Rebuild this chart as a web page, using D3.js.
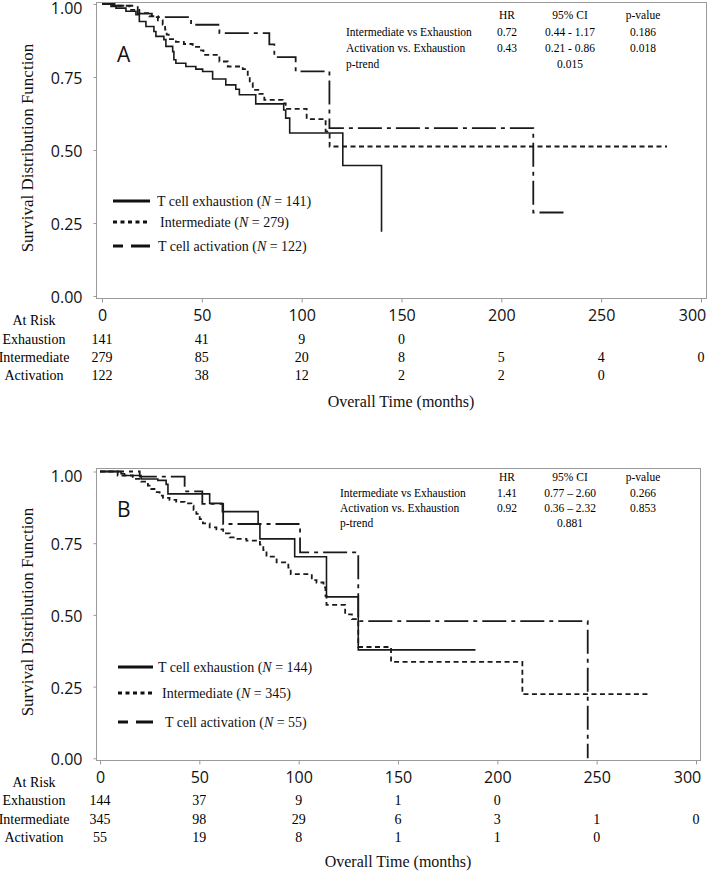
<!DOCTYPE html>
<html>
<head>
<meta charset="utf-8">
<script src="https://cdn.jsdelivr.net/npm/d3@7"></script>
<style>
body { margin:0; background:#fff; }
svg { display:block; }
</style>
</head>
<body>
<div id="chart"></div>
<script>
// ---- data: [months, survival] ----
var aExhaustion = [[0,1],[4.5,0.992],[7,0.986],[12,0.975],[17,0.963],[18.7,0.94],[22,0.923],[26,0.906],[27,0.889],[31,0.878],[32,0.855],[35.4,0.837],[36,0.809],[37,0.797],[42,0.786],[47,0.777],[50.4,0.769],[55.4,0.743],[62,0.723],[67,0.708],[68.8,0.689],[77,0.658],[91,0.637],[92,0.609],[94,0.558],[120.6,0.447],[140,0.22]];
var aIntermediate = [[0,1],[7,0.994],[13.7,0.98],[18.7,0.969],[23.7,0.958],[28,0.944],[30.4,0.929],[31.6,0.912],[32.4,0.895],[33.4,0.88],[37,0.87],[41,0.863],[45.4,0.853],[49.6,0.841],[50.8,0.826],[58.8,0.803],[63,0.786],[70.5,0.777],[73,0.754],[74,0.729],[75.5,0.706],[78.8,0.692],[81.3,0.672],[90.5,0.66],[92,0.641],[102.5,0.606],[112,0.564],[114,0.512],[283,0.512]];
var aActivation = [[0,1],[5.3,0.994],[17.9,0.967],[25,0.955],[44.6,0.929],[58.8,0.9],[83.8,0.862],[86.3,0.818],[97,0.769],[113.9,0.575],[216,0.286],[233,0.286]];

var bExhaustion = [[0,1],[10.6,0.992],[12.3,0.986],[20.7,0.974],[29.1,0.969],[33.3,0.955],[34.2,0.922],[55.2,0.889],[61.6,0.86],[79.6,0.817],[80.5,0.765],[98,0.703],[114,0.563],[130,0.378],[189,0.378]];
var bIntermediate = [[0,1],[8.9,0.986],[16.5,0.974],[20.7,0.965],[24.1,0.951],[25.8,0.939],[27.4,0.928],[30,0.916],[31.7,0.908],[35,0.901],[38.4,0.894],[42.6,0.889],[46,0.881],[47.1,0.866],[48.5,0.852],[50.2,0.834],[51.8,0.819],[55.2,0.805],[58.6,0.798],[62,0.784],[65.3,0.77],[68.7,0.765],[73.7,0.759],[80.5,0.745],[82.2,0.726],[83.8,0.703],[88.9,0.683],[94.8,0.665],[96,0.642],[106.6,0.621],[109,0.613],[112.5,0.596],[113.5,0.566],[114,0.535],[123.4,0.502],[126.8,0.485],[130,0.388],[146.5,0.336],[212.6,0.224],[276,0.224]];
var bActivation = [[0,1],[20,0.982],[42.6,0.931],[51.5,0.887],[62,0.817],[100.7,0.718],[130,0.478],[245.5,0]];

var xTicks = [0,50,100,150,200,250,300];
var yTicks = [0,0.25,0.5,0.75,1];

var groupNames = ["T cell exhaustion","Intermediate","T cell activation"];
var riskLabels = ["Exhaustion","Intermediate","Activation"];
var aN = [141,279,122];
var bN = [144,345,55];

// numbers at risk at 0,50,100...
var aRiskExhaustion = [141,41,9,0];
var aRiskIntermediate = [279,85,20,8,5,4,0];
var aRiskActivation = [122,38,12,2,2,0];
var bRiskExhaustion = [144,37,9,1,0];
var bRiskIntermediate = [345,98,29,6,3,1,0];
var bRiskActivation = [55,19,8,1,1,0];

var statHeader = ["HR","95% CI","p-value"];
var statRows = ["Intermediate vs Exhaustion","Activation vs. Exhaustion","p-trend"];
var aHR = ["0.72","0.43",""];
var aCI = ["0.44 - 1.17","0.21 - 0.86","0.015"];
var aP = ["0.186","0.018",""];
var bHR = ["1.41","0.92",""];
var bCI = ["0.77 \u2013 2.60","0.36 \u2013 2.32","0.881"];
var bP = ["0.266","0.853",""];

var serif = "'Liberation Serif','Times New Roman',serif";
var sans = "'Open Sans','Noto Sans',sans-serif";

var lineStyles = [
  {w:1.6, dash:null},
  {w:1.8, dash:"5,3.5"},
  {w:1.8, dash:"24,5,4,5"}
];

var panels = [
  {letter:"A", curves:[aExhaustion,aIntermediate,aActivation], n:aN,
   risk:[aRiskExhaustion,aRiskIntermediate,aRiskActivation], hr:aHR, ci:aCI, p:aP,
   left:96, right:706, top:2, bottom:298, x0:102, x300:701, yOne:4, yZero:296,
   letterY:62, statX:346, statY:[19,36,52,68], legX:[113,150], legY:[201,222,246], legTextX:[157,160,158],
   riskY:[325,344,362,380], overallY:407, yLabelY:148},
  {letter:"B", curves:[bExhaustion,bIntermediate,bActivation], n:bN,
   risk:[bRiskExhaustion,bRiskIntermediate,bRiskActivation], hr:bHR, ci:bCI, p:bP,
   left:96, right:700, top:468, bottom:760, x0:100, x300:696, yOne:471.5, yZero:758.3,
   letterY:517, statX:340, statY:[481,497,512,527], legX:[118,153], legY:[667,693,722], legTextX:[158,162,165],
   riskY:[787,805,824,842], overallY:867, yLabelY:612}
];

var svg = d3.select("#chart").append("svg")
  .attr("width", 707)
  .attr("height", 875);

function drawPanel(p) {
  var g = svg.append("g");
  var x = d3.scaleLinear().domain([0,300]).range([p.x0, p.x300]);
  var y = d3.scaleLinear().domain([0,1]).range([p.yZero, p.yOne]);

  g.append("rect")
    .attr("x", p.left + 0.5).attr("y", p.top + 0.5)
    .attr("width", p.right - p.left).attr("height", p.bottom - p.top)
    .attr("fill","none").attr("stroke","#9a9a9a").attr("stroke-width",1);

  var yAxis = d3.axisLeft(y).tickValues(yTicks).tickFormat(d3.format(".2f")).tickSize(3).tickPadding(11);
  var ya = g.append("g").attr("transform","translate(" + (p.left+0.5) + ",0)").call(yAxis);
  ya.select(".domain").remove();
  ya.selectAll("line").attr("stroke","#9a9a9a");
  ya.selectAll("text").attr("font-family", sans).attr("font-size", 16).attr("fill","#111")
    .attr("dy", function(d){ return d == 1 ? "0.6em" : "0.4em" });

  var xAxis = d3.axisBottom(x).tickValues(xTicks).tickFormat(d3.format("d")).tickSize(4).tickPadding(7);
  var xa = g.append("g").attr("transform","translate(0," + (p.bottom+0.5) + ")").call(xAxis);
  xa.select(".domain").remove();
  xa.selectAll("line").attr("stroke","#9a9a9a");
  xa.selectAll("text").attr("font-family", sans).attr("font-size", 16).attr("fill","#111")
    .attr("dx", function(d){ return d == 300 ? "-9px" : 0 });

  // KM step curves
  var line = d3.line()
    .x(function(d){ return x(d[0]) })
    .y(function(d){ return y(d[1]) })
    .curve(d3.curveStepAfter);

  p.curves.forEach(function(c, i){
    g.append("path")
      .attr("d", line(c))
      .attr("fill","none")
      .attr("stroke","#1a1a1a")
      .attr("stroke-width", lineStyles[i].w)
      .attr("stroke-dasharray", lineStyles[i].dash);
  });

  g.append("text").text(p.letter)
    .attr("x", 117).attr("y", p.letterY)
    .attr("font-family", sans).attr("font-size", 21).attr("fill","#111");

  g.append("text").text("Survival Distribution Function")
    .attr("transform","translate(27," + p.yLabelY + ") rotate(-90)")
    .attr("text-anchor","middle").attr("dy","0.35em")
    .attr("font-family", serif).attr("font-size", 17).attr("fill","#111");

  // stats table
  var colX = [507, 570, 643];
  statHeader.forEach(function(h, j){
    g.append("text").text(h).attr("x", colX[j]).attr("y", p.statY[0])
      .attr("text-anchor","middle").attr("font-family", serif).attr("font-size", 11.5);
  });
  statRows.forEach(function(r, i){
    var yy = p.statY[i+1];
    g.append("text").text(r).attr("x", p.statX).attr("y", yy)
      .attr("font-family", serif).attr("font-size", 11.5);
    [p.hr[i], p.ci[i], p.p[i]].forEach(function(v, j){
      g.append("text").text(v).attr("x", colX[j]).attr("y", yy)
        .attr("text-anchor","middle").attr("font-family", serif).attr("font-size", 11.5);
    });
  });

  // legend
  groupNames.forEach(function(name, i){
    var ly = p.legY[i];
    var ln = g.append("line")
      .attr("x1", p.legX[0]).attr("x2", p.legX[1])
      .attr("y1", ly).attr("y2", ly)
      .attr("stroke","#111").attr("stroke-width", 3);
    if (i == 1) ln.attr("stroke-dasharray","4,3.5");
    if (i == 2) ln.attr("stroke-dasharray","10,8,20,8");
    var t = g.append("text").attr("x", p.legTextX[i]).attr("y", ly + 5)
      .attr("font-family", serif).attr("font-size", 14).attr("fill","#111");
    t.append("tspan").text(name + " (");
    t.append("tspan").text("N").attr("font-style","italic");
    t.append("tspan").text(" = " + p.n[i] + ")");
  });

  // at risk table
  g.append("text").text("At Risk").attr("x", 34).attr("y", p.riskY[0])
    .attr("text-anchor","middle").attr("font-family", serif).attr("font-size", 14);
  riskLabels.forEach(function(lab, i){
    var yy = p.riskY[i+1];
    g.append("text").text(lab).attr("x", 34).attr("y", yy)
      .attr("text-anchor","middle").attr("font-family", serif).attr("font-size", 14);
    p.risk[i].forEach(function(v, j){
      g.append("text").text(v).attr("x", x(xTicks[j])).attr("y", yy)
        .attr("text-anchor","middle").attr("font-family", serif).attr("font-size", 14);
    });
  });

  g.append("text").text("Overall Time (months)")
    .attr("x", (p.left + p.right)/2).attr("y", p.overallY)
    .attr("text-anchor","middle").attr("font-family", serif).attr("font-size", 16).attr("fill","#111");
}

panels.forEach(drawPanel);
</script>
</body>
</html>
